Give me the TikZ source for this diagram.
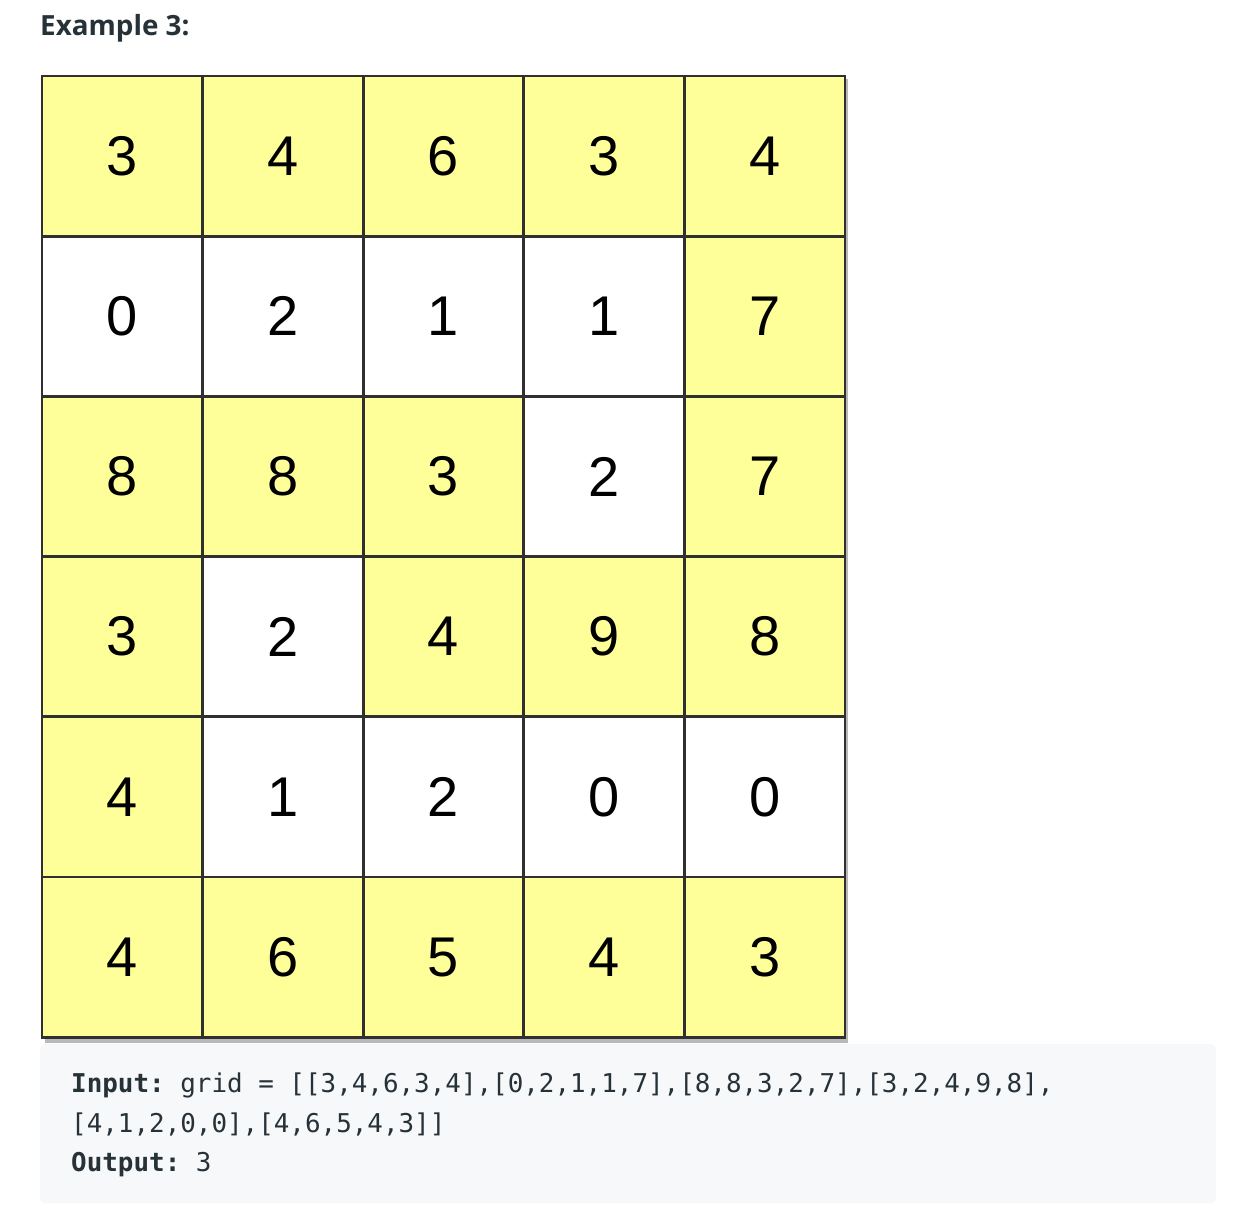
\documentclass[tikz,border=0pt]{standalone}
\usepackage{fontspec}
\setmainfont{Liberation Sans}
\setmonofont{DejaVu Sans Mono}
\newfontfamily\titlefont{Open Sans}
\usepackage{xcolor}
\usepackage{tikz}
\usetikzlibrary{positioning}

\definecolor{titlegray}{HTML}{263238}
\definecolor{lakeyellow}{HTML}{FFFF99}
\definecolor{gridline}{HTML}{303030}
\definecolor{codebg}{HTML}{F7F8FA}
\definecolor{codetext}{HTML}{263238}

\tikzset{
  cell/.style={draw=gridline, line width=2.8pt, minimum width=160.6pt,
    minimum height=160.2pt, inner sep=0pt,
    font=\fontsize{56}{60}\selectfont},
  yes/.style={cell, fill=lakeyellow},
  no/.style={cell, fill=white},
  codeline/.style={anchor=base west, inner sep=0pt, text=codetext,
    font=\ttfamily\fontsize{25.9}{30}\selectfont}
}

\begin{document}
\begin{tikzpicture}[x=1pt,y=-1pt]
  \useasboundingbox (0,0) rectangle (1250,1222);
  % Title
  \node[anchor=base west, inner sep=0pt, text=titlegray,
    font=\titlefont\bfseries\fontsize{27.8}{32}\selectfont] (title) at (40,36) {Example 3:};
  % Shadow of the grid
  \fill[gray!55] (45,79) rectangle (848,1043);
  % Grid cells
  \foreach \v/\f [count=\i from 0] in {3/yes,4/yes,6/yes,3/yes,4/yes,
      0/no,2/no,1/no,1/no,7/yes,
      8/yes,8/yes,3/yes,2/no,7/yes,
      3/yes,2/no,4/yes,9/yes,8/yes,
      4/yes,1/no,2/no,0/no,0/no,
      4/yes,6/yes,5/yes,4/yes,3/yes}{
    \pgfmathtruncatemacro{\col}{mod(\i,5)}
    \pgfmathtruncatemacro{\row}{int(\i/5)}
    \node[\f] (c\i) at ({122.3+160.6*\col},{156.1+160.2*\row}) {\v};
  }
  % Code box
  \fill[codebg, rounded corners=5pt] (40,1044) rectangle (1216,1203);
  \node[codeline] (in1) at (71,1092)
    {\textbf{Input:} grid = [[3,4,6,3,4],[0,2,1,1,7],[8,8,3,2,7],[3,2,4,9,8],};
  \node[codeline] (in2) at (71,1132) {[4,1,2,0,0],[4,6,5,4,3]]};
  \node[codeline] (out) at (71,1171) {\textbf{Output:} 3};
\end{tikzpicture}
\end{document}
